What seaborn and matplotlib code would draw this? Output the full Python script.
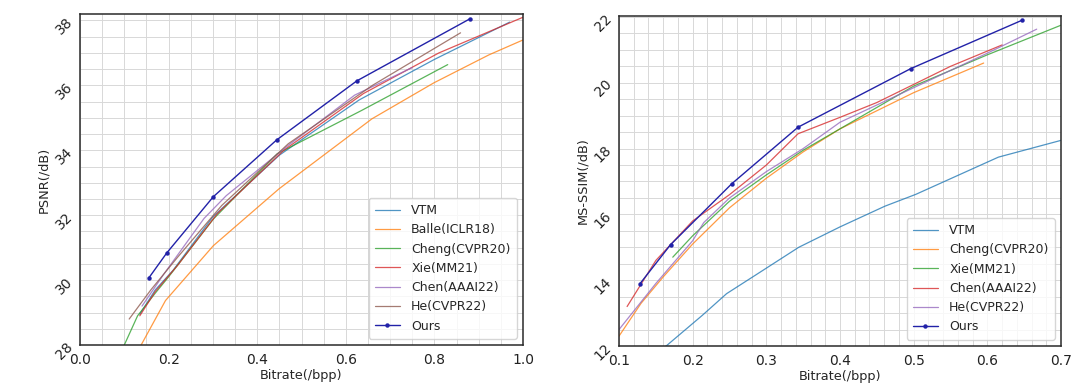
import numpy as np
import pandas as pd
import matplotlib
matplotlib.use("Agg")
import matplotlib.pyplot as plt
from matplotlib.ticker import MultipleLocator
import seaborn as sns

# --- PSNR panel data (Kodak-style RD curves) ---
psnr_vtm_x = [0.135, 0.17, 0.21, 0.30, 0.45, 0.63, 0.80, 0.97]
psnr_vtm_y = [28.95, 29.7, 30.3, 31.95, 33.85, 35.55, 36.8, 37.95]
psnr_balle_x = [0.13, 0.138, 0.193, 0.301, 0.449, 0.659, 0.799, 0.923, 1.0]
psnr_balle_y = [27.9, 28.0, 29.37, 31.06, 32.81, 34.97, 36.08, 36.94, 37.40]
psnr_cheng_x = [0.095, 0.1, 0.13, 0.17, 0.2, 0.301, 0.445, 0.636, 0.83]
psnr_cheng_y = [27.9, 28.0, 28.9, 29.6, 30.1, 31.88, 33.89, 35.23, 36.64]
psnr_xie_x = [0.135, 0.17, 0.22, 0.31, 0.46, 0.64, 0.81, 1.0]
psnr_xie_y = [28.9, 29.65, 30.45, 32.05, 34.0, 35.75, 37.0, 38.1]
psnr_chen_x = [0.14, 0.19, 0.28, 0.33, 0.47, 0.62, 0.75]
psnr_chen_y = [29.2, 30.2, 31.9, 32.6, 34.15, 35.7, 36.55]
psnr_he_x = [0.111, 0.16, 0.22, 0.32, 0.47, 0.66, 0.859]
psnr_he_y = [28.8, 29.7, 30.7, 32.3, 34.2, 36.0, 37.62]
psnr_ours_x = [0.155, 0.196, 0.301, 0.444, 0.625, 0.880]
psnr_ours_y = [30.06, 30.84, 32.57, 34.32, 36.14, 38.05]

# --- MS-SSIM panel data ---
ssim_vtm_x = [0.155, 0.164, 0.213, 0.246, 0.285, 0.344, 0.40, 0.461, 0.503, 0.615, 0.70]
ssim_vtm_y = [11.9, 12.0, 12.93, 13.59, 14.15, 15.0, 15.62, 16.25, 16.61, 17.74, 18.25]
ssim_cheng_x = [0.1, 0.13, 0.16, 0.2, 0.25, 0.3, 0.35, 0.4, 0.5, 0.595]
ssim_cheng_y = [12.3, 13.3, 14.1, 15.1, 16.2, 17.1, 17.9, 18.6, 19.7, 20.6]
ssim_xie_x = [0.173, 0.2, 0.25, 0.3, 0.35, 0.4, 0.5, 0.6, 0.7]
ssim_xie_y = [14.7, 15.35, 16.4, 17.2, 17.95, 18.6, 19.9, 20.85, 21.75]
ssim_chen_x = [0.111, 0.15, 0.2, 0.25, 0.3, 0.343, 0.4, 0.45, 0.55, 0.62]
ssim_chen_y = [13.2, 14.6, 15.8, 16.6, 17.5, 18.45, 18.95, 19.4, 20.5, 21.15]
ssim_he_x = [0.1, 0.15, 0.2, 0.215, 0.25, 0.3, 0.35, 0.4, 0.5, 0.6, 0.667]
ssim_he_y = [12.5, 13.9, 15.2, 15.75, 16.5, 17.3, 18.0, 18.8, 19.85, 20.9, 21.63]
ssim_ours_x = [0.128, 0.170, 0.253, 0.343, 0.496, 0.647]
ssim_ours_y = [13.88, 15.08, 16.93, 18.65, 20.43, 21.90]

TAB = sns.color_palette("tab10")
OURS_COLOR = "#2222a8"


def make_df(series):
    rows = []
    for name, xs, ys in series:
        for x, y in zip(xs, ys):
            rows.append({"method": name, "bpp": x, "val": y})
    return pd.DataFrame(rows)


def draw_panel(ax, df, names, xlim, ylim, xmajor, xminor, ylabel):
    for i, name in enumerate(names):
        sub = df[df["method"] == name]
        if name == "Ours":
            sns.lineplot(data=sub, x="bpp", y="val", ax=ax, sort=False, estimator=None,
                         color=OURS_COLOR, lw=1.0, marker="o", markersize=3.2,
                         markeredgewidth=0, label=name)
        else:
            sns.lineplot(data=sub, x="bpp", y="val", ax=ax, sort=False, estimator=None,
                         color=TAB[i], lw=0.9, alpha=0.78, label=name)
    ax.set_xlim(*xlim)
    ax.set_ylim(*ylim)
    ax.xaxis.set_major_locator(MultipleLocator(xmajor))
    ax.xaxis.set_minor_locator(MultipleLocator(xminor))
    ax.yaxis.set_major_locator(MultipleLocator(2))
    ax.yaxis.set_minor_locator(MultipleLocator(0.5))
    ax.grid(True, which="both", color="#d8d8d8", lw=0.7)
    ax.set_axisbelow(True)
    for s in ax.spines.values():
        s.set_color("#2a2a2a")
        s.set_linewidth(1.1)
    ax.tick_params(axis="x", which="major", direction="inout", length=5, width=0.8,
                   labelsize=10, colors="#222222")
    ax.tick_params(axis="x", which="minor", direction="in", length=3, width=0.6)
    ax.tick_params(axis="y", which="major", direction="in", length=4, width=0.8,
                   labelsize=10, labelrotation=45, colors="#222222")
    ax.tick_params(axis="y", which="minor", direction="in", length=3, width=0.6)
    ax.set_xlabel("Bitrate(/bpp)", fontsize=9.3, labelpad=1)
    ax.set_ylabel(ylabel, fontsize=9.3, labelpad=2)
    leg = ax.legend(loc="lower right", fontsize=9, frameon=True, fancybox=True,
                    handlelength=2.0, handletextpad=0.9, labelspacing=0.5,
                    borderpad=0.5)
    leg.get_frame().set_edgecolor("#cccccc")


sns.set_theme(style="whitegrid")
plt.rcParams["font.family"] = ["DejaVu Sans"]

fig = plt.figure(figsize=(10.8, 3.91), dpi=100)
ax1 = fig.add_axes([80 / 1080, 1 - 345 / 391, 443 / 1080, 331 / 391])
ax2 = fig.add_axes([619 / 1080, 1 - 346 / 391, 442 / 1080, 330 / 391])

psnr_names = ["VTM", "Balle(ICLR18)", "Cheng(CVPR20)", "Xie(MM21)", "Chen(AAAI22)", "He(CVPR22)", "Ours"]
psnr_df = make_df([
    ("VTM", psnr_vtm_x, psnr_vtm_y),
    ("Balle(ICLR18)", psnr_balle_x, psnr_balle_y),
    ("Cheng(CVPR20)", psnr_cheng_x, psnr_cheng_y),
    ("Xie(MM21)", psnr_xie_x, psnr_xie_y),
    ("Chen(AAAI22)", psnr_chen_x, psnr_chen_y),
    ("He(CVPR22)", psnr_he_x, psnr_he_y),
    ("Ours", psnr_ours_x, psnr_ours_y),
])
draw_panel(ax1, psnr_df, psnr_names, (0.0, 1.0), (28, 38.2), 0.2, 0.05, "PSNR(/dB)")

ssim_names = ["VTM", "Cheng(CVPR20)", "Xie(MM21)", "Chen(AAAI22)", "He(CVPR22)", "Ours"]
ssim_df = make_df([
    ("VTM", ssim_vtm_x, ssim_vtm_y),
    ("Cheng(CVPR20)", ssim_cheng_x, ssim_cheng_y),
    ("Xie(MM21)", ssim_xie_x, ssim_xie_y),
    ("Chen(AAAI22)", ssim_chen_x, ssim_chen_y),
    ("He(CVPR22)", ssim_he_x, ssim_he_y),
    ("Ours", ssim_ours_x, ssim_ours_y),
])
draw_panel(ax2, ssim_df, ssim_names, (0.1, 0.7), (12, 22.03), 0.1, 0.02, "MS-SSIM(/dB)")

fig.savefig("out.png", dpi=100)
